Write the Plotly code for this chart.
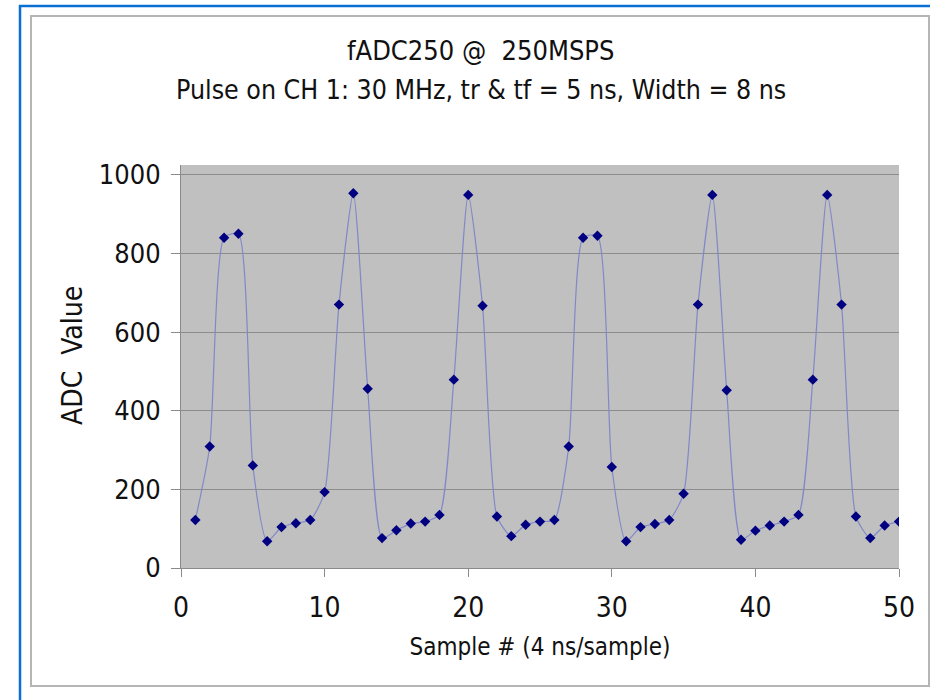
import plotly.graph_objects as go

# ---- data ----
sample = list(range(1, 51))
adc_value = [
    122, 309, 840, 850, 261, 68, 104, 114, 122, 193,
    670, 953, 456, 76, 96, 113, 118, 135, 479, 949,
    667, 131, 81, 110, 118, 122, 309, 840, 845, 257,
    68, 104, 112, 122, 189, 670, 949, 452, 72, 95,
    108, 118, 135, 479, 949, 670, 131, 76, 108, 118,
]
x_ticks = [0, 10, 20, 30, 40, 50]
y_ticks = [0, 200, 400, 600, 800, 1000]

title_line1 = "fADC250 @\u00a0 250MSPS"
title_line2 = "Pulse on CH 1: 30 MHz, tr & tf = 5 ns, Width = 8 ns"
x_title = "Sample # (4 ns/sample)"
y_title = "ADC\u00a0 Value"

FONT = "DejaVu Sans Condensed, Liberation Sans Narrow, sans-serif"

W, H = 930, 700
L, R, T, B = 181, 899, 165, 568  # plot area in pixels


def px(x):
    return (x - L) / (R - L)


def py(y):
    return (B - y) / (B - T)


fig = go.Figure()
fig.add_trace(go.Scatter(
    x=sample, y=adc_value,
    mode="lines+markers",
    line=dict(color="#8088c8", width=1.2, shape="spline", smoothing=0.6),
    marker=dict(symbol="diamond", size=8, color="#000080"),
    showlegend=False,
    hoverinfo="x+y",
))

shapes = [
    dict(type="rect", xref="paper", yref="paper",
         x0=px(20), x1=px(960), y0=py(730), y1=py(6),
         line=dict(color="#0a6fd2", width=2.5), fillcolor="rgba(0,0,0,0)", layer="below"),
    dict(type="rect", xref="paper", yref="paper",
         x0=px(31), x1=px(929), y0=py(686), y1=py(16),
         line=dict(color="#b5b5b5", width=2), fillcolor="rgba(0,0,0,0)", layer="below"),
]

annotations = [
    dict(text=title_line1, xref="paper", yref="paper", x=px(480), y=py(50),
         showarrow=False, xanchor="center", yanchor="middle",
         font=dict(family=FONT, size=27, color="#111111")),
    dict(text=title_line2, xref="paper", yref="paper", x=px(481), y=py(90),
         showarrow=False, xanchor="center", yanchor="middle",
         font=dict(family=FONT, size=26.5, color="#111111")),
    dict(text=y_title, xref="paper", yref="paper", x=px(72), y=py(355),
         showarrow=False, xanchor="center", yanchor="middle", textangle=-90,
         font=dict(family=FONT, size=28, color="#111111")),
]

fig.update_layout(
    width=W, height=H,
    margin=dict(l=L, r=W - R, t=T, b=H - B, pad=0),
    paper_bgcolor="white",
    plot_bgcolor="#c0c0c0",
    shapes=shapes,
    annotations=annotations,
    font=dict(family=FONT, color="#111111"),
    xaxis=dict(
        range=[0, 50], tickvals=x_ticks, ticktext=[str(v) for v in x_ticks],
        showgrid=False, zeroline=False,
        showline=True, linecolor="#8a8a8a", linewidth=1,
        ticks="outside", ticklen=8, tickcolor="#8a8a8a", tickwidth=1,
        ticklabelstandoff=6,
        tickfont=dict(family=FONT, size=28, color="#111111"),
        title=dict(text=x_title, font=dict(family=FONT, size=24, color="#111111"), standoff=15),
    ),
    yaxis=dict(
        range=[0, 1025], tickvals=y_ticks, ticktext=[str(v) for v in y_ticks],
        showgrid=True, gridcolor="#8c8c8c", gridwidth=1.2, zeroline=False,
        showline=True, linecolor="#8a8a8a", linewidth=1,
        ticks="outside", ticklen=9, tickcolor="#8a8a8a", tickwidth=1,
        ticklabelstandoff=5,
        tickfont=dict(family=FONT, size=27, color="#111111"),
    ),
)

fig.write_html("out.html")
